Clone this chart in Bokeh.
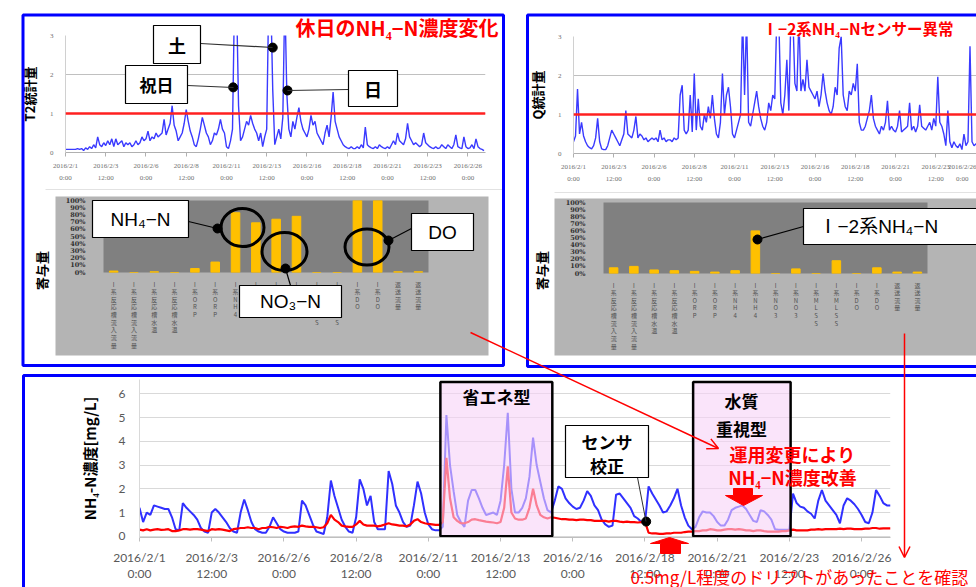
import numpy as np
from bokeh.plotting import figure
from bokeh.models import Range1d, FixedTicker, Span, Arrow, OpenHead, PrintfTickFormatter
from bokeh.core.properties import value
from bokeh.embed import file_html
from bokeh.resources import INLINE

# ---------------- data ----------------
sample_hours = 3  # one reading every 3 hours from 2016/2/1 0:00
tick_hours = [0, 60, 120, 180, 240, 300, 360, 420, 480, 540, 600]
tick_labels = ["2016/2/1\n0:00", "2016/2/3\n12:00", "2016/2/6\n0:00", "2016/2/8\n12:00",
               "2016/2/11\n0:00", "2016/2/13\n12:00", "2016/2/16\n0:00", "2016/2/18\n12:00",
               "2016/2/21\n0:00", "2016/2/23\n12:00", "2016/2/26\n0:00"]

t2_values = [
    0.08, 0.08, 0.08, 0.08, 0.08, 0.08, 0.1, 0.08,
    0.1, 0.05, 0.12, 0.08, 0.15, 0.1, 0.2, 0.12,
    0.4, 0.2, 0.15, 0.25, 0.18, 0.3, 0.2, 0.35,
    0.15, 0.35, 0.2, 0.25, 0.3, 0.15, 0.25, 0.2,
    0.25, 0.15, 0.2, 0.3, 0.2, 0.25, 0.4, 0.3,
    0.35, 0.55, 0.3, 0.4, 0.35, 0.5, 0.4, 0.45,
    0.5, 0.85, 0.45, 0.6, 0.75, 1.2, 0.7, 0.55,
    0.3, 0.4, 0.5, 0.75, 1.1, 0.8, 0.55, 0.4,
    0.2, 0.15, 0.35, 0.6, 0.9, 0.7, 0.5, 0.4,
    0.2, 0.3, 0.5, 0.45, 0.6, 0.85, 0.6, 0.5,
    0.15, 0.1, 0.3, 0.6, 4.0, 4.0, 1.2, 0.3,
    0.4, 0.6, 0.8, 0.7, 0.95, 0.75, 0.6, 0.5,
    0.3, 0.5, 0.15, 0.4, 0.6, 4.0, 4.0, 1.6,
    0.2, 0.4, 0.6, 0.35, 0.9, 4.0, 1.5, 0.6,
    0.4, 0.8, 0.6, 0.9, 1.15, 0.8, 0.6, 0.5,
    0.4, 0.6, 0.95, 0.7, 0.8, 0.5, 0.4, 0.3,
    0.2, 0.5, 0.7, 0.4, 0.9, 1.55, 0.8, 0.6,
    0.4, 0.3, 0.2, 0.15, 0.12, 0.1, 0.15, 0.1,
    0.1, 0.15, 0.1, 0.2, 0.12, 0.65, 0.2, 0.15,
    0.12, 0.1, 0.15, 0.1, 0.2, 0.15, 0.12, 0.1,
    0.15, 0.1, 0.2, 0.3, 0.2, 0.5, 0.3, 0.25,
    0.2, 0.35, 0.75, 0.4, 0.3, 0.2, 0.25, 0.2,
    0.15, 0.2, 0.5, 0.25, 0.2, 0.15, 0.12, 0.1,
    0.15, 0.1, 0.12, 0.2, 0.15, 0.1, 0.2, 0.15,
    0.1, 0.2, 0.45, 0.15, 0.12, 0.1, 0.4, 0.15,
    0.1, 0.12, 0.2, 0.1, 0.35, 0.15, 0.1, 0.08,
    0.05]

q_values = [
    0.3, 0.45, 1.65, 0.5, 0.8, 0.45, 0.3, 0.2,
    0.15, 0.12, 0.2, 0.4, 0.9, 0.3, 0.12, 0.1,
    0.1, 0.2, 0.4, 0.6, 0.5, 0.4, 0.3, 0.2,
    0.35, 0.5, 1.1, 0.5, 0.45, 0.4, 0.6, 0.95,
    0.4, 0.5, 0.45, 0.35, 0.4, 0.3, 0.35, 0.4,
    0.35, 0.4, 0.3, 0.6, 0.35, 0.4, 0.3, 0.35,
    0.35, 0.3, 0.4, 0.35, 0.4, 1.5, 1.75, 0.6,
    0.5, 0.6, 1.5, 0.55, 2.05, 0.6, 1.4, 0.7,
    0.6, 1.0, 0.8, 1.2, 0.9, 1.5, 0.9, 0.5,
    0.4, 0.8, 2.05, 1.0, 1.5, 1.7, 1.2, 0.5,
    0.4, 0.6, 0.8, 1.0, 3.5, 1.5, 3.5, 0.8,
    0.7, 1.0, 1.3, 1.6, 1.2, 0.9, 0.7, 0.6,
    0.8, 1.3, 1.1, 1.5, 1.4, 3.5, 3.5, 1.3,
    1.0, 1.5, 2.4, 1.1, 3.5, 3.5, 1.8, 1.6,
    3.5, 1.6, 1.9, 1.6, 2.4, 1.7, 1.6, 1.5,
    1.4, 1.6, 1.2, 1.5, 2.05, 1.6, 1.3, 1.1,
    1.0, 1.2, 1.7, 1.5, 2.7, 3.0, 1.5, 1.2,
    1.1, 1.6, 1.5, 1.8, 1.6, 2.3, 0.8, 0.6,
    0.6, 0.7, 0.9, 1.1, 1.5, 0.9, 0.7, 0.6,
    0.5, 0.7, 0.6, 0.8, 1.35, 0.6, 0.7, 0.6,
    0.55, 0.7, 1.1, 0.55, 0.6, 0.65, 0.7, 1.3,
    0.6, 0.7, 0.55, 0.7, 1.25, 0.7, 0.65, 0.6,
    0.7, 0.8, 0.6, 0.9, 0.7, 1.97, 0.8, 0.7,
    0.5, 0.2, 1.1, 0.3, 0.15, 0.3, 0.2, 0.15,
    0.25, 0.1, 0.5, 0.2, 0.3, 2.75, 0.3, 0.2,
    0.25, 0.2, 0.3, 0.25, 0.3, 0.2, 0.25, 0.3,
    0.2]

nh4_blue = [
    1.2, 0.6, 1.0, 0.9, 1.3, 1.25, 1.2, 1.15,
    1.15, 0.8, 0.3, 0.25, 1.4, 1.2, 1.05, 0.9,
    0.7, 0.35, 0.2, 0.15, 1.0, 1.15, 1.0, 0.8,
    0.6, 0.35, 0.2, 0.15, 1.0, 1.55, 1.1, 0.6,
    0.3, 0.2, 0.15, 0.15, 0.4, 0.8, 0.55, 0.3,
    0.2, 0.15, 0.15, 0.15, 0.2, 1.5, 1.3, 0.9,
    0.5, 0.2, 0.15, 0.1, 0.8, 2.35, 1.7, 1.2,
    0.7, 0.4, 0.2, 0.15, 0.8, 2.4, 2.0, 1.3,
    1.7, 0.6, 0.3, 0.3, 0.3, 2.75, 2.2, 1.3,
    1.0, 0.6, 0.4, 0.45, 1.3, 2.3, 1.8, 1.0,
    0.5, 0.3, 0.25, 0.25, 0.4, 5.1, 3.0, 1.9,
    0.9, 0.6, 0.4, 1.5, 1.95, 1.95, 1.6, 1.2,
    0.9, 0.95, 1.0, 0.9, 1.5, 3.0, 5.2, 2.0,
    1.0, 1.0, 1.2, 1.6, 2.5, 4.15, 3.0, 2.3,
    1.6, 1.1, 1.0, 1.5, 2.1, 2.0, 1.6, 1.4,
    1.25, 1.15, 1.2, 1.5, 1.9, 1.7, 1.3, 1.1,
    0.7, 0.5, 0.4, 0.45, 1.75, 1.8, 1.6, 1.4,
    1.2, 0.85, 0.75, 0.6, 0.55, 2.1, 1.8, 1.55,
    1.3, 1.0, 1.05, 1.3, 1.6, 2.0, 1.3, 0.8,
    0.45, 0.3, 0.4, 0.8, 1.05, 1.0, 1.0, 0.85,
    0.6, 0.45, 0.45, 0.7, 1.1, 1.2, 1.25, 1.3,
    1.15, 0.9, 0.65, 0.6, 1.1, 1.05, 0.9, 0.7,
    0.3, 0.28, 0.28, 0.28, 0.28, 1.8, 1.4, 1.25,
    1.2, 1.05, 0.95, 0.75, 1.5, 1.95, 1.5, 1.3,
    1.1, 0.9, 0.55, 1.3, 1.6, 1.5, 1.35, 1.15,
    0.9, 0.6, 0.55, 1.0, 1.95, 1.7, 1.4, 1.3,
    1.3]

nh4_red = [
    0.28, 0.25, 0.3, 0.25, 0.28, 0.3, 0.27, 0.28,
    0.3, 0.22, 0.22, 0.25, 0.3, 0.3, 0.28, 0.3,
    0.3, 0.28, 0.25, 0.22, 0.3, 0.28, 0.3, 0.28,
    0.25, 0.22, 0.3, 0.32, 0.35, 0.35, 0.38, 0.35,
    0.35, 0.3, 0.35, 0.35, 0.4, 0.38, 0.35, 0.4,
    0.38, 0.35, 0.4, 0.42, 0.4, 0.45, 0.42, 0.4,
    0.4, 0.38, 0.35, 0.38, 0.55, 0.9, 0.7, 0.6,
    0.45, 0.42, 0.4, 0.4, 0.5, 0.65, 0.5, 0.45,
    0.45, 0.45, 0.42, 0.45, 0.5, 0.55, 0.5, 0.48,
    0.45, 0.45, 0.42, 0.5, 0.65, 0.72, 0.6, 0.55,
    0.52, 0.5, 0.48, 0.48, 0.6, 3.3, 1.6, 0.8,
    0.65, 0.55, 0.55, 0.6, 0.7, 0.72, 0.68, 0.65,
    0.62, 0.6, 0.58, 0.55, 0.6, 1.2, 2.95, 1.0,
    0.75, 0.7, 0.7, 0.75, 1.2, 2.0, 1.3, 0.9,
    0.8, 0.75, 0.8, 0.78, 0.75, 0.72, 0.72, 0.7,
    0.7, 0.68, 0.7, 0.7, 0.68, 0.68, 0.65, 0.65,
    0.65, 0.65, 0.62, 0.65, 0.65, 0.62, 0.6, 0.62,
    0.6, 0.6, 0.58, 0.6, 0.62, 0.15, 0.12, 0.12,
    0.1, 0.1, 0.12, 0.12, 0.15, 0.15, 0.15, 0.18,
    0.2, 0.2, 0.22, 0.22, 0.25, 0.25, 0.3, 0.28,
    0.25, 0.25, 0.28, 0.3, 0.3, 0.28, 0.3, 0.28,
    0.25, 0.25, 0.22, 0.25, 0.25, 0.22, 0.2, 0.2,
    0.2, 0.2, 0.22, 0.22, 0.25, 0.28, 0.25, 0.25,
    0.25, 0.25, 0.28, 0.28, 0.3, 0.28, 0.3, 0.3,
    0.3, 0.3, 0.32, 0.3, 0.32, 0.32, 0.3, 0.3,
    0.3, 0.32, 0.32, 0.35, 0.35, 0.32, 0.33, 0.33,
    0.33]

threshold = 1.0

contrib_labels = ["I系反応槽流入流量", "I系反応槽流入流量", "I系反応槽水温", "I系反応槽水温",
                  "I系ORP", "I系ORP", "I系NH4", "I系NH4", "I系NO3", "I系NO3",
                  "I系MLSS", "I系MLSS", "I系DO", "I系DO", "返送流量", "返送流量"]
contrib_holiday = [2, 0, 1, 0, 5.5, 14.5, 83, 69, 74, 78, 0, 0, 100, 100, 1, 1]
contrib_sensor = [8, 10, 5, 4, 3, 2, 4, 60, 0, 6.5, 0, 18, 0, 8, 2, 2]

t2_marks_hours = [250, 309, 331]          # 祝日, 土, 日
t2_marks_values = [1.67, 2.69, 1.59]
mode_start_hours = [250, 460]             # 省エネ型, 水質重視型
mode_end_hours = [343, 541]
calib_hour = [421]
calib_value = [0.62]

# ---------------- helpers ----------------
W, H = 968, 579
JP = "Noto Sans CJK JP"
LAYER = {"position": "absolute", "left": "8px", "top": "8px"}


def hours(series):
    return [i * sample_hours for i in range(len(series))]


def chart(fx0, fx1, fy0, fy1, xr, yr):
    """figure whose frame lands on page pixels fx0..fx1, fy0..fy1"""
    p = figure(width=W, height=H, output_backend="svg", toolbar_location=None,
               x_range=xr, y_range=yr, styles=LAYER,
               min_border_left=fx0 - 8, min_border_right=976 - fx1,
               min_border_top=fy0 - 8, min_border_bottom=587 - fy1)
    p.background_fill_color = None
    p.border_fill_color = None
    p.outline_line_color = None
    p.xgrid.visible = False
    return p


def canvas():
    p = figure(width=W, height=H, output_backend="svg", toolbar_location=None,
               x_range=Range1d(8, 976), y_range=Range1d(587, 8), styles=LAYER,
               x_axis_location=None, y_axis_location=None,
               min_border_left=0, min_border_right=0, min_border_top=0, min_border_bottom=0)
    p.grid.visible = False
    p.outline_line_color = None
    p.background_fill_color = None
    p.border_fill_color = None
    return p


def small_time_axis(p, ylabel):
    xa = p.xaxis[0]
    xa.ticker = FixedTicker(ticks=tick_hours)
    xa.major_label_overrides = dict(zip(tick_hours, tick_labels))
    xa.major_label_text_font = "Liberation Serif"
    xa.major_label_text_font_size = "7px"
    xa.major_label_text_color = "#707070"
    xa.major_label_text_line_height = 1.6
    xa.major_label_standoff = 5
    xa.axis_line_color = "#b0b0b0"
    xa.major_tick_line_color = "#b0b0b0"
    xa.major_tick_out = 4
    xa.major_tick_in = 0
    ya = p.yaxis[0]
    ya.ticker = FixedTicker(ticks=[0, 1, 2, 3])
    ya.major_label_text_font = "Liberation Serif"
    ya.major_label_text_font_size = "7px"
    ya.major_label_text_color = "#707070"
    ya.major_label_standoff = 6
    ya.axis_line_color = "#d0d0d0"
    ya.major_tick_line_color = None
    ya.axis_label = ylabel
    ya.axis_label_text_font = JP
    ya.axis_label_text_font_size = "13px"
    ya.axis_label_text_font_style = "bold"
    ya.axis_label_text_color = "black"
    ya.axis_label_standoff = 8
    p.ygrid.grid_line_color = "#c0c0c0"


def bar_axis(p):
    xa = p.xaxis[0]
    xa.ticker = FixedTicker(ticks=list(range(1, 17)))
    xa.major_label_overrides = {i + 1: "\n".join(list(s)) for i, s in enumerate(contrib_labels)}
    xa.major_label_text_font = JP
    xa.major_label_text_font_size = "6px"
    xa.major_label_text_line_height = 0.85
    xa.major_label_text_color = "#505050"
    xa.major_label_standoff = 1
    xa.axis_line_color = None
    xa.major_tick_line_color = None
    ya = p.yaxis[0]
    ya.ticker = FixedTicker(ticks=list(range(0, 101, 10)))
    ya.formatter = PrintfTickFormatter(format="%d%%")
    ya.major_label_text_font = "DejaVu Serif"
    ya.major_label_text_font_style = "bold"
    ya.major_label_text_font_size = "6.5px"
    ya.major_label_text_color = "#303030"
    ya.major_label_standoff = 12
    ya.axis_line_color = None
    ya.major_tick_line_color = None
    p.ygrid.visible = False
    p.background_fill_color = "#808080"


# ---------------- background layer ----------------
bg = canvas()
bg.background_fill_color = "white"
bg.border_fill_color = "white"
bg.quad(left=[55, 554], right=[488, 990], top=[196, 198], bottom=[355, 355],
        fill_color="#b4b4b4", line_color=None)
bg.segment(x0=[45, 554], y0=[189, 192], x1=[503, 990], y1=[189, 192], line_color="#e2e2e2", line_width=1)

# ---------------- top-left: T2 ----------------
tl = chart(65, 485, 35, 152, Range1d(0, 626.2), Range1d(0, 3))
small_time_axis(tl, "T2統計量")
tl.line(hours(t2_values), t2_values, line_color="#3a3aff", line_width=1.4)
tl.add_layout(Span(location=threshold, dimension="width", line_color="#ff2020", line_width=2.5))
tl.scatter(t2_marks_hours, t2_marks_values, size=9, color="black")

tlb = chart(103, 428, 200, 272, Range1d(0.5, 16.5), Range1d(0, 100))
bar_axis(tlb)
tlb.vbar(x=list(range(1, 17)), top=contrib_holiday, width=0.42, color="#ffc000")

# ---------------- top-right: Q ----------------
tr = chart(573, 976, 36, 153, Range1d(0, 600.7), Range1d(0, 3))
small_time_axis(tr, "Q統計量")
tr.line(hours(q_values), q_values, line_color="#3a3aff", line_width=1.4)
tr.add_layout(Span(location=threshold, dimension="width", line_color="#ff2020", line_width=2.5))

trb = chart(603, 927, 202, 273, Range1d(0.5, 16.5), Range1d(0, 100))
bar_axis(trb)
trb.vbar(x=list(range(1, 17)), top=contrib_sensor, width=0.42, color="#ffc000")

# ---------------- bottom: NH4-N ----------------
bt = chart(139, 890, 379, 537, Range1d(0, 624), Range1d(-0.05, 6.6))
bt.line(hours(nh4_blue), nh4_blue, line_color="#3030ff", line_width=2)
bt.line(hours(nh4_red), nh4_red, line_color="#ff0000", line_width=2.2)
bt.quad(left=mode_start_hours, right=mode_end_hours, bottom=0, top=6.5,
        fill_color="#f7d2f7", fill_alpha=0.6, line_color="black", line_width=2.5)
bt.scatter(calib_hour, calib_value, size=9, color="black")
xa = bt.xaxis[0]
xa.ticker = FixedTicker(ticks=tick_hours)
xa.major_label_overrides = dict(zip(tick_hours, tick_labels))
xa.major_label_text_font = "Lato"
xa.major_label_text_font_size = "12px"
xa.major_label_text_color = "#595959"
xa.major_label_text_line_height = 1.1
xa.major_label_standoff = 8
xa.axis_line_color = "#bfbfbf"
xa.major_tick_line_color = "#bfbfbf"
xa.major_tick_out = 4
xa.major_tick_in = 0
ya = bt.yaxis[0]
ya.ticker = FixedTicker(ticks=[0, 1, 2, 3, 4, 5, 6])
ya.major_label_text_font = "Lato"
ya.major_label_text_font_size = "12px"
ya.major_label_text_color = "#595959"
ya.major_label_standoff = 8
ya.axis_line_color = "#d9d9d9"
ya.major_tick_line_color = None
ya.axis_label = "NH₄-N濃度[mg/L]"
ya.axis_label_text_font = JP
ya.axis_label_text_font_size = "15px"
ya.axis_label_text_font_style = "bold"
ya.axis_label_text_color = "black"
ya.axis_label_standoff = 16
bt.ygrid.grid_line_color = "#d9d9d9"

# ---------------- overlay: frames, callouts, arrows ----------------
ov = canvas()


def txt(x, y, s, size, color="black", bold=False, align="center", font=JP, angle=0.0):
    ov.text(x=[x], y=[y], text=[s], text_font=value(font), text_font_size=f"{size}px",
            text_color=color, text_font_style="bold" if bold else "normal",
            text_align=align, text_baseline="middle", angle=angle)


def box(x0, y0, x1, y1, lw=1.2):
    ov.quad(left=[x0], right=[x1], top=[y0], bottom=[y1], fill_color="white",
            line_color="black", line_width=lw)


# blue panel frames
ov.quad(left=[22.5, 527, 23], right=[503, 995, 995], top=[14.5, 14.5, 375], bottom=[365, 366, 600],
        fill_color=None, line_color="#0000ff", line_width=3)

# panel titles
txt(498, 27, "休日のNH₄−N濃度変化", 20, color="#ff0000", bold=True, align="right")
txt(762, 27, "Ⅰ−2系NH₄−Nセンサー異常", 15.5, color="#ff0000", bold=True, align="left")

# contribution axis titles
txt(41, 270, "寄与量", 13, bold=True, angle=np.pi / 2)
txt(541, 270, "寄与量", 13, bold=True, angle=np.pi / 2)

# T2 callouts
ov.segment(x0=[200, 187, 348], y0=[43, 85, 89], x1=[272, 233, 287], y1=[47, 87, 90],
           line_color="#303030", line_width=1.2)
box(153, 25, 200, 63)
txt(176.5, 44, "土", 18, bold=True)
box(125, 65, 187, 103)
txt(156, 84, "祝日", 17, bold=True)
box(348, 70, 397, 106)
txt(372.5, 88, "日", 18, bold=True)

# contribution callouts (top-left)
ov.ellipse(x=[242, 284, 366.5], y=[227, 251, 246.5], width=[43, 45, 44], height=[38, 38, 36],
           fill_color=None, line_color="black", line_width=3)
ov.segment(x0=[188, 285, 411], y0=[221, 268, 228], x1=[217, 290, 388], y1=[228, 285, 240],
           line_color="black", line_width=1.2)
ov.scatter([217, 285, 388, 757], [228, 268, 240, 239], size=9, color="black")
box(92, 200, 188, 237)
txt(140, 219, "NH₄−N", 19, font="Liberation Sans, DejaVu Sans")
box(239, 285, 341, 317)
txt(290, 301, "NO₃−N", 19, font="Liberation Sans, DejaVu Sans")
box(411, 213, 473, 250)
txt(442, 232, "DO", 19, font="Liberation Sans, DejaVu Sans")

# contribution callout (top-right)
ov.segment(x0=[803], y0=[226], x1=[757], y1=[239], line_color="black", line_width=1.2)
box(803, 208, 995, 244)
txt(818, 226, "Ⅰ−2系NH₄−N", 19, align="left", font="Liberation Sans, Noto Sans CJK JP")

# bottom chart annotations
txt(496, 396, "省エネ型", 17, bold=True)
txt(741, 400, "水質", 17, bold=True)
txt(741, 428, "重視型", 17, bold=True)
ov.segment(x0=[637], y0=[477], x1=[645.5], y1=[521], line_color="#303030", line_width=1)
box(565, 425, 648, 477)
txt(606.5, 441, "センサ", 17, bold=True)
txt(606.5, 465, "校正", 17, bold=True)
txt(792, 453, "運用変更により", 18, color="#ff0000", bold=True)
txt(792, 476, "NH₄−N濃度改善", 18, color="#ff0000", bold=True)
ov.patch(x=[733, 752, 752, 762, 743, 725, 733], y=[488, 488, 495, 495, 505, 495, 495],
         fill_color="#ff0000", line_color="#ff0000")
ov.patch(x=[669, 688, 680, 680, 660, 660, 650], y=[537, 543, 543, 553, 553, 543, 543],
         fill_color="#ff0000", line_color="#ff0000")
txt(630, 576, "0.5mg/L程度のドリフトがあったことを確認", 17, color="#ff0000", align="left")

# connecting arrows
ov.add_layout(Arrow(end=OpenHead(size=11, line_color="#ff0000", line_width=1.5),
                    x_start=470, y_start=332, x_end=718, y_end=448,
                    line_color="#ff0000", line_width=1.5))
ov.add_layout(Arrow(end=OpenHead(size=11, line_color="#ff0000", line_width=1.5),
                    x_start=904, y_start=333, x_end=904, y_end=557,
                    line_color="#ff0000", line_width=1.5))

# every layer is its own root, absolutely placed on the same spot (later roots on top)
layers = [bg, tl, tlb, tr, trb, bt, ov]

open("out.html", "w").write(file_html(layers, INLINE))
